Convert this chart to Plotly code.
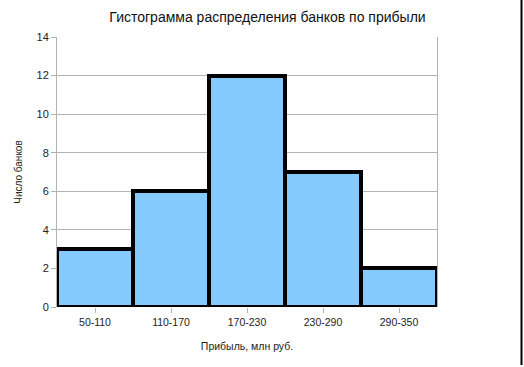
import plotly.graph_objects as go

categories = ["50-110", "110-170", "170-230", "230-290", "290-350"]
counts = [3, 6, 12, 7, 2]
title_text = "Гистограмма распределения банков по прибыли"
x_title = "Прибыль, млн руб."
y_title = "Число банков"

font_family = "Liberation Sans, Arial, sans-serif"

fig = go.Figure(
    go.Bar(
        x=categories,
        y=counts,
        marker=dict(color="#85CAFF", line=dict(color="black", width=4)),
    )
)

fig.update_layout(
    width=524,
    height=367,
    margin=dict(l=57, r=87, t=37, b=60),
    paper_bgcolor="white",
    plot_bgcolor="white",
    bargap=0,
    showlegend=False,
    font=dict(family=font_family, color="#222222"),
    title=dict(
        text=title_text,
        x=(107 + 428) / 2 / 524,
        xanchor="center",
        y=1 - 17 / 367,
        yanchor="middle",
        font=dict(size=14, color="#111111"),
    ),
    shapes=[
        dict(
            type="line",
            xref="paper",
            yref="paper",
            x0=(521.5 - 57) / 380,
            x1=(521.5 - 57) / 380,
            y0=-58 / 270,
            y1=1 + 37 / 270,
            line=dict(color="black", width=2),
        )
    ],
)

fig.update_xaxes(
    title=dict(text=x_title, font=dict(size=10.5), standoff=16),
    tickfont=dict(size=10.5),
    ticks="outside",
    ticklen=5,
    tickcolor="#b3b3b3",
    showgrid=False,
    showline=False,
    mirror=False,
)

fig.update_yaxes(
    title=dict(text=y_title, font=dict(size=10), standoff=12),
    range=[0, 14],
    dtick=2,
    tickfont=dict(size=11),
    ticks="outside",
    ticklen=5,
    tickcolor="#b3b3b3",
    showgrid=True,
    gridcolor="#b3b3b3",
    gridwidth=1,
    showline=True,
    linecolor="#b3b3b3",
    linewidth=1,
    mirror=True,
    zeroline=False,
)

fig.write_html("out.html")
